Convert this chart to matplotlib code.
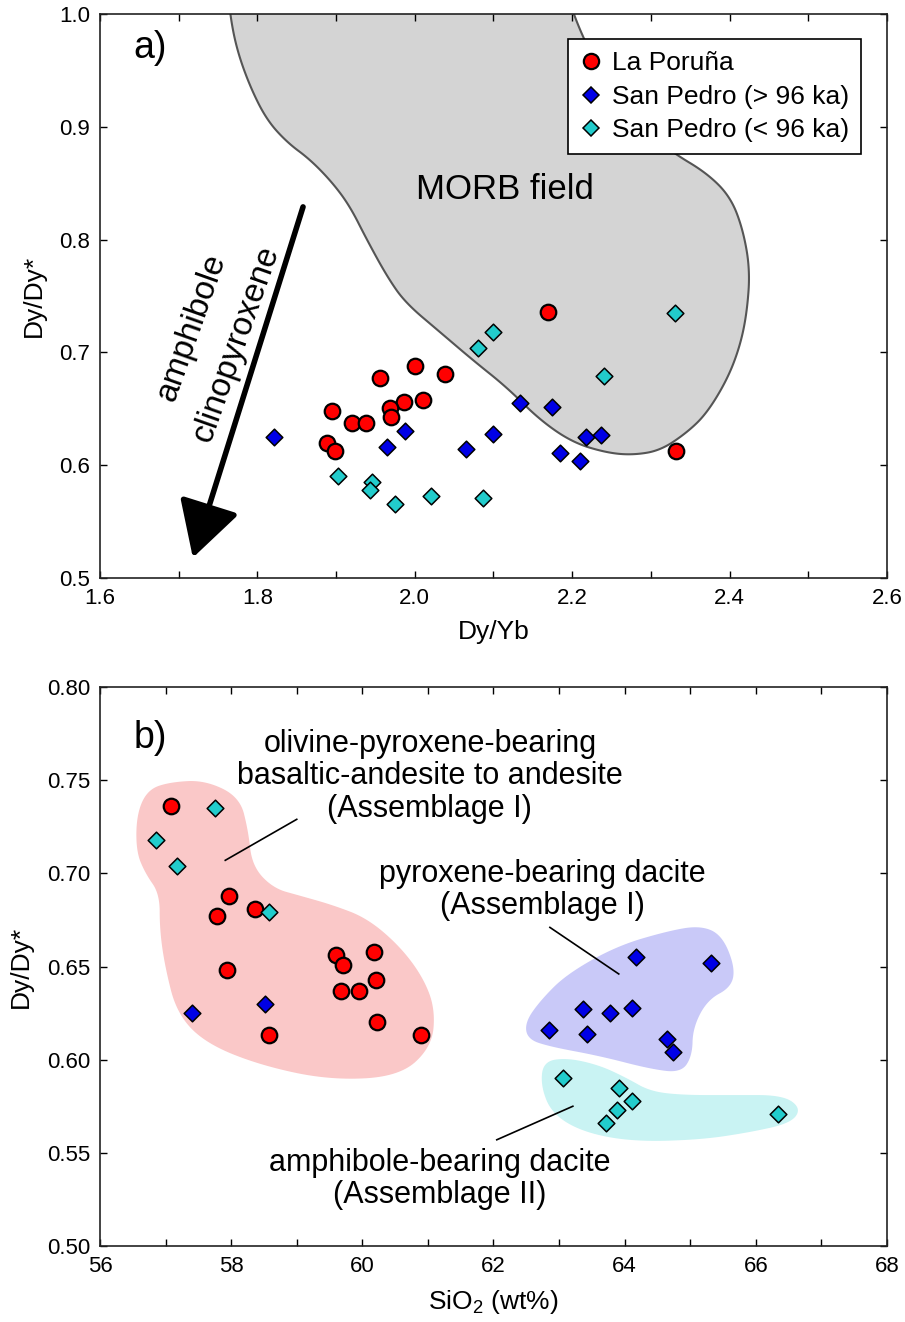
import numpy as np
import matplotlib
matplotlib.use('Agg')
import matplotlib.pyplot as plt
from matplotlib.patches import Polygon, FancyArrowPatch
from matplotlib.lines import Line2D

plt.rcParams['font.family'] = ['Liberation Sans', 'DejaVu Sans']
plt.rcParams['mathtext.fontset'] = 'custom'
plt.rcParams['mathtext.rm'] = 'Liberation Sans'
plt.rcParams['mathtext.default'] = 'regular'

# La Poruna
lp_dyyb = [2.169, 2.000, 2.038, 1.956, 2.010, 1.986, 1.968, 1.895, 1.970, 1.920, 1.938, 1.888, 1.899, 2.332]
lp_dydy = [0.736, 0.688, 0.681, 0.677, 0.658, 0.656, 0.651, 0.648, 0.643, 0.637, 0.637, 0.620, 0.613, 0.613]
lp_sio2 = [57.08, 57.96, 58.37, 57.78, 60.18, 59.60, 59.71, 57.93, 60.21, 59.68, 59.95, 60.23, 58.57, 60.89]

# San Pedro, older than 96 ka
spo_dyyb = [2.134, 2.174, 1.988, 2.100, 2.236, 1.821, 2.218, 1.965, 2.065, 2.185, 2.210]
spo_dydy = [0.655, 0.652, 0.630, 0.628, 0.627, 0.625, 0.625, 0.616, 0.614, 0.611, 0.604]
spo_sio2 = [64.17, 65.31, 58.51, 64.11, 63.37, 57.41, 63.78, 62.85, 63.42, 64.64, 64.74]

# San Pedro, younger than 96 ka
spy_dyyb = [2.331, 2.099, 2.080, 2.240, 1.902, 1.945, 1.943, 2.021, 2.087, 1.975]
spy_dydy = [0.735, 0.718, 0.704, 0.679, 0.590, 0.585, 0.578, 0.573, 0.571, 0.566]
spy_sio2 = [57.75, 56.86, 57.18, 58.57, 63.06, 63.91, 64.11, 63.88, 66.34, 63.72]

# MORB field outline (Dy/Yb, Dy/Dy*), the last points run on above the frame
morb_x = [1.765, 1.774, 1.791, 1.812, 1.838, 1.867, 1.896, 1.918, 1.939, 1.965, 1.988, 2.032,
          2.074, 2.117, 2.159, 2.201, 2.244, 2.277, 2.312, 2.346, 2.371, 2.397, 2.413, 2.422,
          2.426, 2.417, 2.401, 2.371, 2.328, 2.290, 2.258, 2.228, 2.201, 2.190, 2.180, 1.758, 1.762]
morb_y = [1.0, 0.968, 0.935, 0.906, 0.886, 0.871, 0.850, 0.829, 0.800, 0.767, 0.744, 0.718,
          0.693, 0.669, 0.640, 0.620, 0.611, 0.609, 0.613, 0.629, 0.646, 0.676, 0.705, 0.735,
          0.773, 0.809, 0.838, 0.859, 0.877, 0.898, 0.925, 0.958, 1.0, 1.03, 1.10, 1.10, 1.03]

# assemblage fields in SiO2 - Dy/Dy* space
ass1_x = [57.07, 57.60, 58.13, 58.26, 58.32, 58.64, 59.05, 59.55, 60.07, 60.57, 60.93, 61.11, 61.06,
          60.57, 59.51, 58.44, 57.60, 57.17, 56.99, 56.91, 56.91, 56.69, 56.55, 56.56, 56.73]
ass1_y = [0.749, 0.750, 0.741, 0.723, 0.704, 0.692, 0.688, 0.683, 0.676, 0.661, 0.644, 0.627, 0.607,
          0.591, 0.589, 0.597, 0.609, 0.625, 0.650, 0.670, 0.689, 0.700, 0.712, 0.732, 0.745]
dac_x = [62.48, 62.72, 63.12, 63.88, 64.65, 65.15, 65.48, 65.68, 65.63, 65.26, 65.04, 65.03, 64.86,
         64.39, 63.62, 62.86, 62.52]
dac_y = [0.620, 0.632, 0.646, 0.661, 0.669, 0.672, 0.667, 0.650, 0.639, 0.632, 0.617, 0.602, 0.593,
         0.595, 0.602, 0.607, 0.611]
amp_x = [62.76, 63.12, 63.62, 64.04, 64.39, 64.89, 65.65, 66.41, 66.69, 66.54, 65.91, 65.15, 64.13,
         63.37, 62.89, 62.72]
amp_y = [0.599, 0.601, 0.597, 0.590, 0.583, 0.581, 0.581, 0.581, 0.574, 0.566, 0.561, 0.557, 0.556,
         0.561, 0.571, 0.586]

# fractionation trend arrow (from, to)
trend_start = (1.858, 0.829)
trend_end = (1.718, 0.518)


def chaikin(xs, ys, n=4):
    # corner cutting on a closed outline -> smooth blob
    p = np.column_stack([xs, ys])
    for _ in range(n):
        q = np.roll(p, -1, axis=0)
        a = 0.75 * p + 0.25 * q
        b = 0.25 * p + 0.75 * q
        p = np.empty((2 * len(a), 2))
        p[0::2] = a
        p[1::2] = b
    return p


red = '#ff0000'
blue = '#0000e6'
cyan = '#22cccc'

fig = plt.figure(figsize=(9.05, 13.22), dpi=100)
ax1 = fig.add_axes([0.1105, 0.5628, 0.8696, 0.4266])
ax2 = fig.add_axes([0.1105, 0.0575, 0.8696, 0.4228])


def style(ax):
    ax.tick_params(which='both', direction='in', top=True, right=True, labelsize=16, pad=7)
    ax.tick_params(which='major', length=5, width=1)
    ax.tick_params(which='minor', length=5, width=1)
    for s in ax.spines.values():
        s.set_linewidth(1.2)
        s.set_color('#222222')


def points(ax, xa, xb, xc):
    ax.scatter(xa, lp_dydy, s=125, marker='o', c=red, edgecolors='k', linewidths=1.6, zorder=5,
               label='La Poruña')
    ax.scatter(xb, spo_dydy, s=72, marker='D', c=blue, edgecolors='k', linewidths=1.1, zorder=6,
               label='San Pedro (> 96 ka)')
    ax.scatter(xc, spy_dydy, s=72, marker='D', c=cyan, edgecolors='k', linewidths=1.1, zorder=6,
               label='San Pedro (< 96 ka)')


# ---- a) Dy/Dy* vs Dy/Yb
ax1.add_patch(Polygon(chaikin(morb_x, morb_y), closed=True, facecolor='#d4d4d4',
                      edgecolor='#555555', lw=1.5, zorder=1))
points(ax1, lp_dyyb, spo_dyyb, spy_dyyb)

ax1.add_patch(FancyArrowPatch(trend_start, trend_end, arrowstyle='-|>,head_length=3.4,head_width=1.9',
                              mutation_scale=10, lw=4, color='k', shrinkA=0, shrinkB=0, zorder=4))
ax1.text(1.716, 0.722, 'amphibole', rotation=70.5, fontsize=24, ha='center', va='center')
ax1.text(1.773, 0.708, 'clinopyroxene', rotation=70.5, fontsize=24, ha='center', va='center')
ax1.text(2.115, 0.844, 'MORB field', fontsize=25, ha='center', va='center', zorder=3)
ax1.text(0.064, 0.940, 'a)', transform=ax1.transAxes, fontsize=27, ha='center', va='center')

ax1.set_xlim(1.6, 2.6)
ax1.set_ylim(0.5, 1.0)
ax1.set_xticks(np.arange(1.6, 2.61, 0.2))
ax1.set_xticks(np.arange(1.6, 2.61, 0.1), minor=True)
ax1.set_yticks(np.arange(0.5, 1.01, 0.1))
ax1.xaxis.set_major_formatter(plt.FormatStrFormatter('%.1f'))
ax1.yaxis.set_major_formatter(plt.FormatStrFormatter('%.1f'))
ax1.set_xlabel('Dy/Yb', fontsize=19, labelpad=8)
ax1.set_ylabel('Dy/Dy*', fontsize=19, labelpad=10)
style(ax1)

handles = [
    Line2D([], [], ls='none', marker='o', ms=11, mfc=red, mec='k', mew=1.6),
    Line2D([], [], ls='none', marker='D', ms=8.5, mfc=blue, mec='k', mew=1.1),
    Line2D([], [], ls='none', marker='D', ms=8.5, mfc=cyan, mec='k', mew=1.1),
]
leg = ax1.legend(handles, ['La Poruña', 'San Pedro (> 96 ka)', 'San Pedro (< 96 ka)'],
                 loc='upper right', bbox_to_anchor=(0.967, 0.955), fontsize=19, frameon=True,
                 fancybox=False, framealpha=1, edgecolor='k', borderpad=0.45, labelspacing=0.36,
                 handlelength=0.8, handletextpad=0.4, borderaxespad=0)
leg.get_frame().set_linewidth(1.2)
leg.set_zorder(10)

# ---- b) Dy/Dy* vs SiO2
ax2.add_patch(Polygon(chaikin(ass1_x, ass1_y), closed=True, facecolor='#fac8c8',
                      edgecolor='none', zorder=1))
ax2.add_patch(Polygon(chaikin(dac_x, dac_y), closed=True, facecolor='#c9c9f8',
                      edgecolor='none', zorder=1))
ax2.add_patch(Polygon(chaikin(amp_x, amp_y), closed=True, facecolor='#c9f3f3',
                      edgecolor='none', zorder=1))
points(ax2, lp_sio2, spo_sio2, spy_sio2)

ax2.text(61.03, 0.752, 'olivine-pyroxene-bearing\nbasaltic-andesite to andesite\n(Assemblage I)',
         fontsize=22, ha='center', va='center', linespacing=1.1)
ax2.plot([59.0, 57.91], [0.729, 0.707], color='k', lw=1.2, zorder=3)
ax2.text(62.74, 0.691, 'pyroxene-bearing dacite\n(Assemblage I)',
         fontsize=22, ha='center', va='center', linespacing=1.1)
ax2.plot([62.86, 63.91], [0.671, 0.646], color='k', lw=1.2, zorder=3)
ax2.text(61.18, 0.536, 'amphibole-bearing dacite\n(Assemblage II)',
         fontsize=22, ha='center', va='center', linespacing=1.1)
ax2.plot([62.05, 63.21], [0.557, 0.575], color='k', lw=1.2, zorder=3)
ax2.text(0.064, 0.909, 'b)', transform=ax2.transAxes, fontsize=27, ha='center', va='center')

ax2.set_xlim(56, 68)
ax2.set_ylim(0.5, 0.8)
ax2.set_xticks(np.arange(56, 68.1, 2))
ax2.set_xticks(np.arange(56, 68.1, 1), minor=True)
ax2.set_yticks(np.arange(0.5, 0.801, 0.05))
ax2.yaxis.set_major_formatter(plt.FormatStrFormatter('%.2f'))
ax2.set_xlabel('SiO$_2$ (wt%)', fontsize=19, labelpad=8)
ax2.set_ylabel('Dy/Dy*', fontsize=19, labelpad=10)
style(ax2)

fig.savefig('out.png', dpi=100)
